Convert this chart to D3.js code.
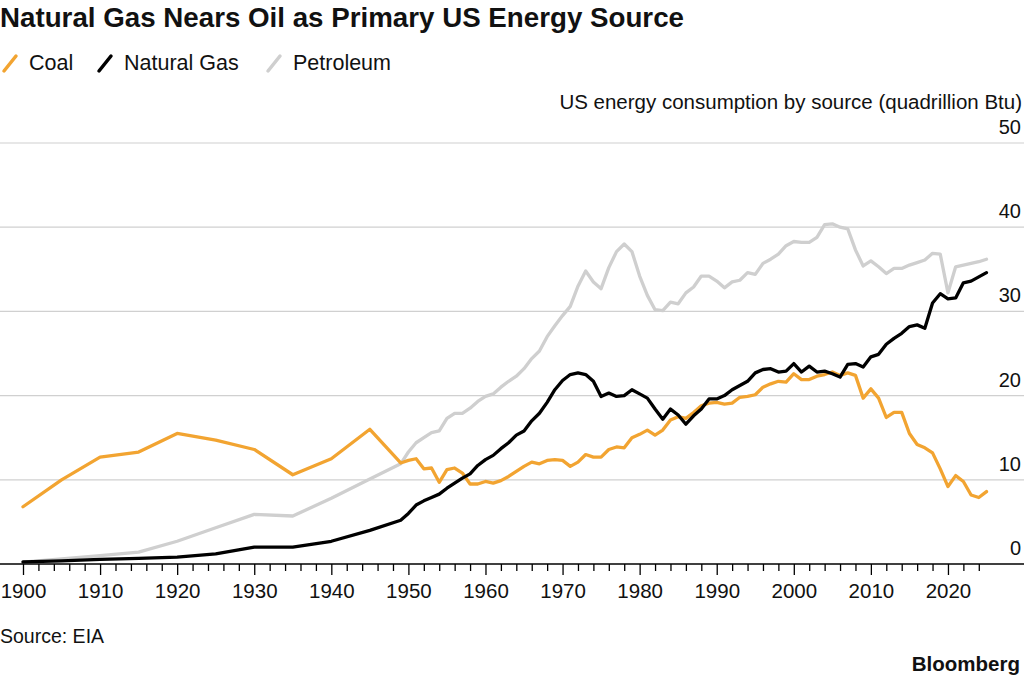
<body style="margin:0;background:#fff"></body>

<script src='https://cdn.jsdelivr.net/npm/d3@7/dist/d3.min.js'></script>
<style>
    body { font-family: "Liberation Sans", Arial, sans-serif; }
    svg text { fill: #111; }
</style>
<script>

    // years: every 5 years up to 1945, then yearly from 1949
    let years = [1900, 1905, 1910, 1915, 1920, 1925, 1930, 1935, 1940, 1945,
        1949, 1950, 1951, 1952, 1953, 1954, 1955, 1956, 1957, 1958, 1959,
        1960, 1961, 1962, 1963, 1964, 1965, 1966, 1967, 1968, 1969,
        1970, 1971, 1972, 1973, 1974, 1975, 1976, 1977, 1978, 1979,
        1980, 1981, 1982, 1983, 1984, 1985, 1986, 1987, 1988, 1989,
        1990, 1991, 1992, 1993, 1994, 1995, 1996, 1997, 1998, 1999,
        2000, 2001, 2002, 2003, 2004, 2005, 2006, 2007, 2008, 2009,
        2010, 2011, 2012, 2013, 2014, 2015, 2016, 2017, 2018, 2019,
        2020, 2021, 2022, 2023, 2024, 2025];

    let coal = [6.8, 10.0, 12.7, 13.3, 15.5, 14.7, 13.6, 10.6, 12.5, 16.0,
        12.0, 12.3, 12.5, 11.3, 11.4, 9.7, 11.2, 11.4, 10.8, 9.5, 9.5,
        9.8, 9.6, 9.9, 10.4, 11.0, 11.6, 12.1, 11.9, 12.3, 12.4,
        12.3, 11.6, 12.1, 13.0, 12.7, 12.7, 13.6, 13.9, 13.8, 15.0,
        15.4, 15.9, 15.3, 15.9, 17.1, 17.5, 17.3, 18.0, 18.8, 19.1,
        19.2, 19.0, 19.1, 19.8, 19.9, 20.1, 21.0, 21.4, 21.7, 21.6,
        22.6, 21.9, 21.9, 22.3, 22.5, 22.8, 22.4, 22.7, 22.4, 19.7,
        20.8, 19.7, 17.4, 18.0, 18.0, 15.5, 14.2, 13.8, 13.2, 11.3,
        9.2, 10.5, 9.8, 8.2, 7.9, 8.6];

    let naturalGas = [0.25, 0.37, 0.54, 0.67, 0.81, 1.2, 2.0, 2.0, 2.7, 4.0,
        5.2, 6.0, 7.0, 7.5, 7.9, 8.3, 9.0, 9.6, 10.2, 10.7, 11.7,
        12.4, 12.9, 13.7, 14.4, 15.3, 15.8, 17.0, 17.9, 19.2, 20.7,
        21.8, 22.5, 22.7, 22.5, 21.7, 19.9, 20.3, 19.9, 20.0, 20.7,
        20.2, 19.7, 18.4, 17.2, 18.4, 17.7, 16.6, 17.6, 18.4, 19.6,
        19.6, 20.0, 20.7, 21.2, 21.7, 22.7, 23.1, 23.2, 22.8, 22.9,
        23.8, 22.8, 23.5, 22.8, 22.9, 22.6, 22.2, 23.7, 23.8, 23.4,
        24.6, 24.9, 26.1, 26.8, 27.4, 28.2, 28.4, 28.0, 31.0, 32.1,
        31.5, 31.6, 33.4, 33.6, 34.1, 34.6];

    let petroleum = [0.23, 0.6, 1.0, 1.4, 2.7, 4.3, 5.9, 5.7, 7.8, 10.1,
        11.9, 13.3, 14.4, 15.0, 15.6, 15.8, 17.3, 17.9, 17.9, 18.5, 19.3,
        19.9, 20.2, 21.0, 21.7, 22.3, 23.2, 24.4, 25.3, 27.0, 28.3,
        29.5, 30.6, 33.0, 34.8, 33.5, 32.7, 35.2, 37.1, 38.0, 37.1,
        34.2, 31.9, 30.2, 30.1, 31.1, 30.9, 32.2, 32.9, 34.2, 34.2,
        33.6, 32.8, 33.5, 33.7, 34.6, 34.4, 35.7, 36.2, 36.8, 37.8,
        38.3, 38.2, 38.2, 38.8, 40.3, 40.4, 40.0, 39.8, 37.3, 35.4,
        36.0, 35.3, 34.5, 35.1, 35.1, 35.5, 35.8, 36.1, 36.9, 36.8,
        32.2, 35.3, 35.5, 35.7, 35.9, 36.2];

    let seriesNames = ["Coal", "Natural Gas", "Petroleum"];
    let seriesColors = ["#f2a431", "#000000", "#cfcfcf"];
    let yTickValues = [0, 10, 20, 30, 40, 50];
    let xLabelYears = [1900, 1910, 1920, 1930, 1940, 1950, 1960, 1970, 1980, 1990, 2000, 2010, 2020];

    var width = 1024;
    var height = 679;

    var svg = d3.select("body")
        .append("svg")
        .attr("width", width)
        .attr("height", height)
        .style("display", "block");

    var x = d3.scaleLinear().domain([1900, 2025]).range([23, 986.5]);
    var y = d3.scaleLinear().domain([0, 50]).range([564, 143]);

    // Title
    svg.append("text")
        .attr("x", 0)
        .attr("y", 27)
        .attr("textLength", 684)
        .attr("lengthAdjust", "spacingAndGlyphs")
        .style("font-family", "'Liberation Sans Narrow', 'Liberation Sans', Arial, sans-serif")
        .style("font-weight", "bold")
        .style("font-size", "27px")
        .text("Natural Gas Nears Oil as Primary US Energy Source");

    // Legend
    var legendX = [2, 97, 266];
    var legend = svg.selectAll(".legend")
        .data(seriesNames)
        .enter()
        .append("g")
        .attr("transform", function (d, i) { return "translate(" + legendX[i] + ",0)"; });

    legend.append("line")
        .attr("x1", 2).attr("y1", 71)
        .attr("x2", 14).attr("y2", 56)
        .attr("stroke", function (d, i) { return seriesColors[i]; })
        .attr("stroke-width", 3.5)
        .attr("stroke-linecap", "round");

    legend.append("text")
        .attr("x", 27)
        .attr("y", 70)
        .style("font-size", "21.5px")
        .text(function (d) { return d; });

    // Subtitle
    svg.append("text")
        .attr("x", 1022)
        .attr("y", 109)
        .style("text-anchor", "end")
        .style("font-size", "20.5px")
        .text("US energy consumption by source (quadrillion Btu)");

    // Gridlines + right-side labels
    var grid = svg.selectAll(".grid")
        .data(yTickValues)
        .enter()
        .append("g");

    grid.filter(function (d) { return d > 0; })
        .append("line")
        .attr("x1", 0)
        .attr("x2", width)
        .attr("y1", function (d) { return y(d); })
        .attr("y2", function (d) { return y(d); })
        .attr("stroke", "#d0d0d0")
        .attr("stroke-width", 1.2);

    grid.append("text")
        .attr("x", 1021)
        .attr("y", function (d) { return y(d) - 9; })
        .style("text-anchor", "end")
        .style("font-size", "20px")
        .text(function (d) { return d; });

    // X axis: minor ticks every 2 years, major every 10
    var minorTicks = d3.range(1900, 2025, 2).filter(function (d) { return d % 10 != 0; });

    var xAxisMinor = svg.append("g")
        .attr("transform", "translate(0," + y(0) + ")")
        .call(d3.axisBottom(x).tickValues(minorTicks).tickSize(7).tickFormat(""));

    var xAxisMajor = svg.append("g")
        .attr("transform", "translate(0," + y(0) + ")")
        .call(d3.axisBottom(x).tickValues(xLabelYears).tickSize(11).tickPadding(8).tickFormat(d3.format("d")));

    [xAxisMinor, xAxisMajor].forEach(function (ax) {
        ax.select(".domain").remove();
        ax.selectAll(".tick line").attr("stroke", "#000").attr("stroke-width", 1.3);
    });
    xAxisMajor.selectAll(".tick text")
        .attr("fill", "#111")
        .style("font-family", "'Liberation Sans', Arial, sans-serif")
        .style("font-size", "20.5px");

    // Lines
    var series = [coal, naturalGas, petroleum];
    var line = d3.line()
        .x(function (d, i) { return x(years[i]); })
        .y(function (d) { return y(d); });

    // draw petroleum first, then coal, gas on top
    [2, 0, 1].forEach(function (k) {
        svg.append("path")
            .datum(series[k])
            .attr("fill", "none")
            .attr("stroke", seriesColors[k])
            .attr("stroke-width", 3.3)
            .attr("stroke-linejoin", "round")
            .attr("stroke-linecap", "round")
            .attr("d", line);
    });

    // Baseline on top
    svg.append("line")
        .attr("x1", 0)
        .attr("x2", width)
        .attr("y1", y(0))
        .attr("y2", y(0))
        .attr("stroke", "#000")
        .attr("stroke-width", 1.5);

    // Footer
    svg.append("text")
        .attr("x", 0)
        .attr("y", 643)
        .style("font-size", "19.5px")
        .text("Source: EIA");

    svg.append("text")
        .attr("x", 1020)
        .attr("y", 671)
        .style("text-anchor", "end")
        .style("font-weight", "bold")
        .style("font-size", "20.5px")
        .text("Bloomberg");

</script>
